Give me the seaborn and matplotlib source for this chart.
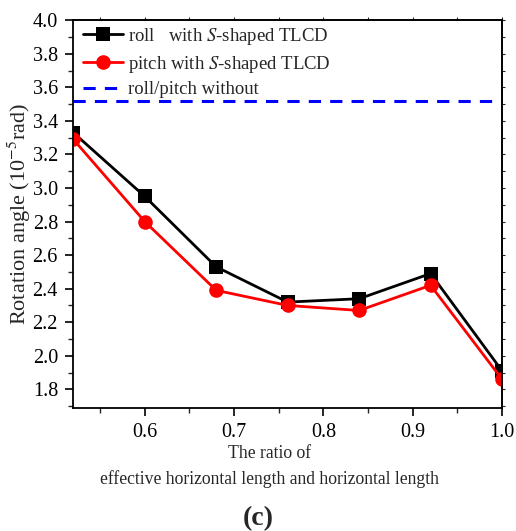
import numpy as np
import pandas as pd
import seaborn as sns
import matplotlib.pyplot as plt
from matplotlib.ticker import MultipleLocator

ratio = [0.52, 0.60, 0.68, 0.76, 0.84, 0.92, 1.00]
roll = [3.33, 2.95, 2.53, 2.32, 2.34, 2.49, 1.91]
pitch = [3.29, 2.80, 2.39, 2.30, 2.27, 2.42, 1.86]
without = 3.52

labels = ["roll   with $S$-shaped TLCD", "pitch with $S$-shaped TLCD", "roll/pitch without"]

df = pd.DataFrame({"ratio": ratio * 2,
                   "angle": roll + pitch,
                   "case": [labels[0]] * len(ratio) + [labels[1]] * len(ratio)})

sns.set_style("ticks")
plt.rcParams["font.family"] = ["Liberation Serif", "DejaVu Serif"]
plt.rcParams["mathtext.fontset"] = "stix"

fig = plt.figure(figsize=(5.16, 5.31), dpi=100)
ax = fig.add_axes([0.142, 0.232, 0.831, 0.73])

sns.lineplot(data=df, x="ratio", y="angle", hue="case", style="case",
             palette=["black", "red"], markers=["s", "o"], dashes=False,
             markersize=10.5, linewidth=2, markeredgewidth=0, ax=ax)
ax.axhline(without, color="blue", linestyle=(0, (4, 3)), linewidth=2.2, label=labels[2])

ax.set_xlim(0.52, 1.0)
ax.set_ylim(1.69, 4.0)
ax.xaxis.set_major_locator(MultipleLocator(0.1))
ax.xaxis.set_minor_locator(MultipleLocator(0.05))
ax.yaxis.set_major_locator(MultipleLocator(0.2))
ax.yaxis.set_minor_locator(MultipleLocator(0.1))
ax.tick_params(axis="both", which="major", direction="out", length=6, width=1.2,
               labelsize=14.5, colors="black", pad=5)
ax.tick_params(axis="both", which="minor", direction="out", length=3.5, width=1.0)
for s in ax.spines.values():
    s.set_linewidth(1.3)
    s.set_color("black")

# small ticks on the top and right frame
sec_y = ax.secondary_yaxis("right")
sec_y.yaxis.set_major_locator(MultipleLocator(0.1))
sec_y.tick_params(direction="out", length=2, width=0.8, labelright=False)
sec_y.spines["right"].set_linewidth(1.3)
sec_x = ax.secondary_xaxis("top")
sec_x.xaxis.set_major_locator(MultipleLocator(0.05))
sec_x.tick_params(direction="out", length=2, width=0.8, labeltop=False)
sec_x.spines["top"].set_linewidth(1.3)

ax.set_xlabel("The ratio of\neffective horizontal length and horizontal length",
              fontsize=12.7, linespacing=1.55)
ax.xaxis.set_label_coords(0.457, -0.097)
ax.set_ylabel("Rotation angle (10$^{-5}$rad)", fontsize=16)
ax.yaxis.set_label_coords(-0.095, 0.5)

handles, lbls = ax.get_legend_handles_labels()
ax.legend(handles, lbls, loc="upper left", frameon=False, fontsize=13.5,
          handlelength=2.1, borderaxespad=0.05, labelspacing=0.36, handletextpad=0.3,
          borderpad=0.25, bbox_to_anchor=(0.01, 1.0))

fig.text(0.5, 0.012, "(c)", fontsize=20, fontweight="bold", ha="center")

fig.savefig("out.png", dpi=100)
